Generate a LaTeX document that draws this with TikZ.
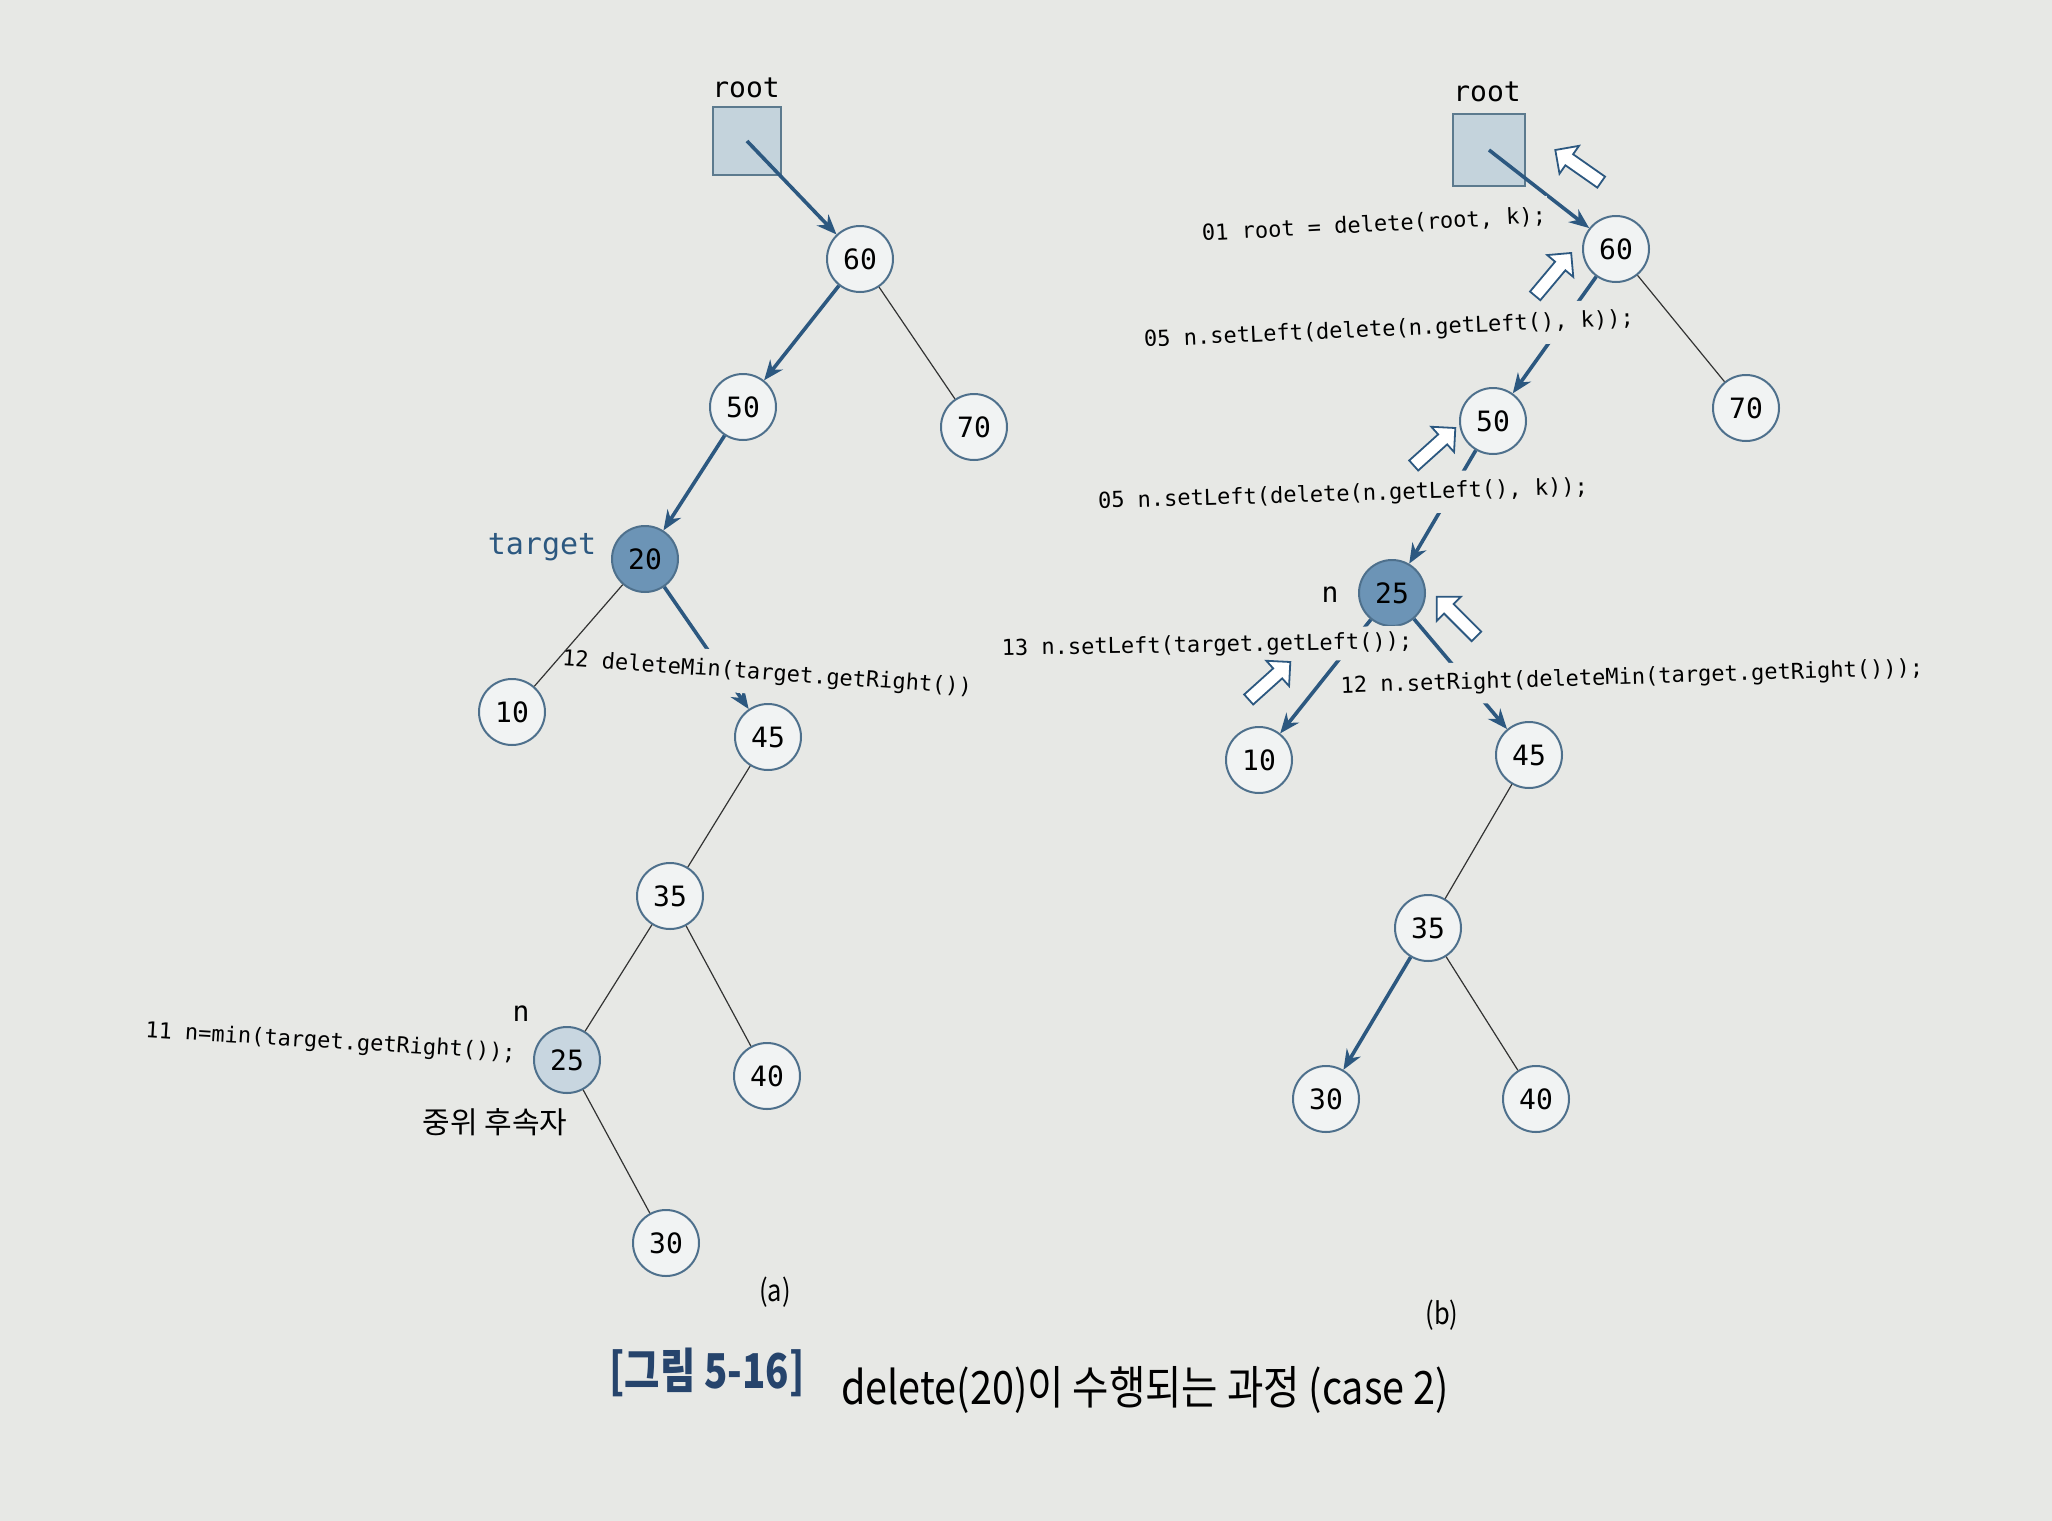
\documentclass[tikz,border=0pt]{standalone}
\usepackage{fontspec}
\setmonofont{DejaVu Sans Mono}
\newfontfamily\cjk{Noto Sans CJK KR}
\usepackage{xcolor}
\usepackage{tikz}
\usetikzlibrary{arrows.meta}
\usetikzlibrary{shapes.arrows}

\definecolor{pagebg}{RGB}{231,232,229}
\definecolor{nodefill}{RGB}{241,243,243}
\definecolor{nodeline}{RGB}{78,112,140}
\definecolor{hotfill}{RGB}{108,148,182}
\definecolor{succfill}{RGB}{200,214,224}
\definecolor{boxfill}{RGB}{196,211,220}
\definecolor{boxline}{RGB}{92,122,142}
\definecolor{walkblue}{RGB}{44,88,128}
\definecolor{capblue}{RGB}{38,68,108}

\tikzset{
	keynode/.style={shape=circle, draw=nodeline, fill=nodefill, line width=1pt, inner sep=0pt, minimum size=33pt, font=\ttfamily\fontsize{14}{14}\selectfont},
	hotnode/.style={keynode, fill=hotfill},
	succnode/.style={keynode, fill=succfill},
	rootbox/.style={shape=rectangle, draw=boxline, fill=boxfill, line width=0.8pt, minimum size=34pt},
	codelabel/.style={fill=pagebg, inner xsep=1pt, inner ysep=5pt, font=\ttfamily\fontsize{11}{11}\selectfont},
	varlabel/.style={font=\ttfamily\fontsize{14}{14}\selectfont},
	korlabel/.style={font=\cjk\fontsize{15}{15}\selectfont},
	link/.style={line width=0.6pt, black!80},
	walk/.style={->, line width=1.8pt, walkblue},
	retarrow/.style={single arrow, draw=walkblue, fill=white, line width=0.9pt, minimum height=28pt, minimum width=17pt, single arrow head extend=4.5pt, inner sep=2.5pt},
	>={Stealth[length=10pt,width=8pt]}
}

\begin{document}
\begin{tikzpicture}[x=0.5pt,y=-0.5pt]
			\fill[pagebg] (0,0) rectangle (2052,1521);
			\useasboundingbox (0,0) rectangle (2052,1521);

			%% (a)
			\node[varlabel] (rootAtxt) at (746,88) {root};
			\node[rootbox] (rootA) at (747,141) {};
			\node[keynode] (a60) at (860,259) {60};
			\node[keynode] (a50) at (743,407) {50};
			\node[keynode] (a70) at (974,427) {70};
			\node[hotnode] (a20) at (645,559) {20};
			\node[varlabel, text=walkblue, font=\ttfamily\fontsize{15}{15}\selectfont] (targettxt) at (542,547) {target};
			\node[keynode] (a10) at (512,712) {10};
			\node[keynode] (a45) at (768,737) {45};
			\node[keynode] (a35) at (670,896) {35};
			\node[succnode] (a25) at (567,1060) {25};
			\node[keynode] (a40) at (767,1076) {40};
			\node[keynode] (a30) at (666,1243) {30};
			\node[varlabel] (ntxtA) at (521,1014) {n};
			\node[korlabel] (succtxt) at (495,1122) {중위 후속자};
			\node[korlabel] (capA) at (775,1292) {\scalebox{0.85}[1]{(a)}};

			%% (b)
			\node[varlabel] (rootBtxt) at (1487,92) {root};
			\node[rootbox, minimum size=36pt] (rootB) at (1489,150) {};
			\node[keynode] (b60) at (1616,249) {60};
			\node[keynode] (b70) at (1746,408) {70};
			\node[keynode] (b50) at (1493,421) {50};
			\node[hotnode] (b25) at (1392,593) {25};
			\node[varlabel] (ntxtB) at (1330,595) {n};
			\node[keynode] (b10) at (1259,760) {10};
			\node[keynode] (b45) at (1529,755) {45};
			\node[keynode] (b35) at (1428,928) {35};
			\node[keynode] (b30) at (1326,1099) {30};
			\node[keynode] (b40) at (1536,1099) {40};
			\node[korlabel] (capB) at (1442,1315) {\scalebox{0.85}[1]{(b)}};

			%% lines
			\draw[walk] (rootA.center) -- (a60);
			\draw[walk] (a60) -- (a50);
			\draw[walk] (a50) -- (a20);
			\draw[link] (a60) -- (a70);
			\draw[walk] (a20) -- (a45);
			\draw[link] (a45) -- (a35);
			\draw[link] (a35) -- (a25);
			\draw[link] (a35) -- (a40);
			\draw[link] (a25) -- (a30);

			\draw[walk] (rootB.center) -- (b60);
			\draw[walk] (b60) -- (b50);
			\draw[walk] (b50) -- (b25);
			\draw[walk] (b25) -- (b10);
			\draw[walk] (b25) -- (b45);
			\draw[link] (b60) -- (b70);
			\draw[link] (b45) -- (b35);
			\draw[walk] (b35) -- (b30);
			\draw[link] (b35) -- (b40);

			%% code lines
			\node[codelabel, rotate=-4] (delmin) at (767,674) {12 deleteMin(target.getRight())};
			\node[codelabel, rotate=-3.5, anchor=east] (findmin) at (518,1054) {11 n=min(target.getRight());};
			\node[codelabel, rotate=3] (call01) at (1374,225) {01 root = delete(root, k);};
			\node[codelabel, rotate=2.5] (call05a) at (1389,330) {05 n.setLeft(delete(n.getLeft(), k));};
			\node[codelabel, rotate=1.7] (call05b) at (1343,495) {05 n.setLeft(delete(n.getLeft(), k));};
			\node[codelabel, rotate=1, inner ysep=3pt] (set13) at (1207,646) {13 n.setLeft(target.getLeft());};
			\node[codelabel, rotate=1.8] (set12) at (1632,678) {12 n.setRight(deleteMin(target.getRight()));};
			\draw[link] (a20) -- (a10);

			%% return arrows
			\node[retarrow, rotate=145] (ret1) at (1581,168) {};
			\node[retarrow, rotate=50] (ret2) at (1551,277) {};
			\node[retarrow, rotate=42] (ret3) at (1432,449) {};
			\node[retarrow, rotate=135] (ret4) at (1459,619) {};
			\node[retarrow, rotate=42] (ret5) at (1267,683) {};

			%% caption
			\node[font=\cjk\bfseries\fontsize{24}{24}\selectfont, text=capblue] (capnum) at (707,1372) {\scalebox{0.8}[1]{[그림 5-16]}};
			\node[font=\cjk\fontsize{23}{23}\selectfont] (captxt) at (1145,1390) {\scalebox{0.86}[1]{delete(20)이 수행되는 과정 (case 2)}};
		\end{tikzpicture}
\end{document}
